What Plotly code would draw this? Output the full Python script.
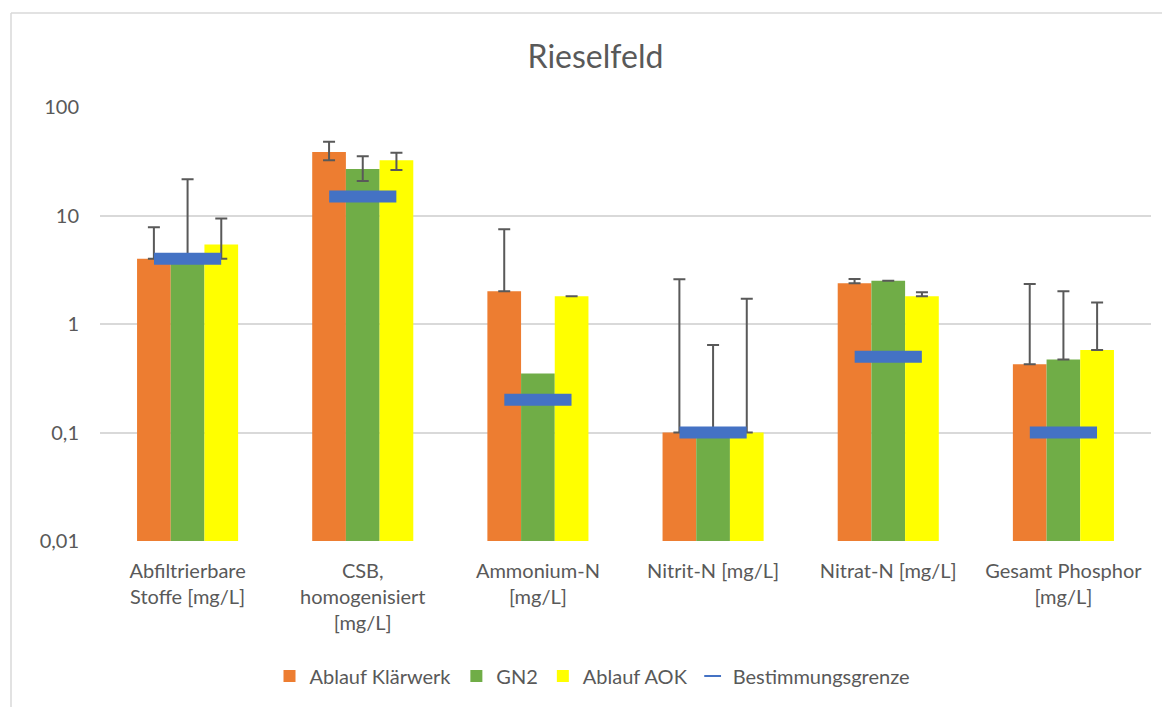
import plotly.graph_objects as go

categories = [
    "Abfiltrierbare<br>Stoffe [mg/L]",
    "CSB,<br>homogenisiert<br>[mg/L]",
    "Ammonium-N<br>[mg/L]",
    "Nitrit-N [mg/L]",
    "Nitrat-N [mg/L]",
    "Gesamt Phosphor<br>[mg/L]",
]

klaerwerk = [4.0, 38.5, 2.0, 0.1, 2.37, 0.425]
klaerwerk_plus = [3.8, 9.4, 5.46, 2.48, 0.23, 1.915]
klaerwerk_minus = [0, 6.2, 0, 0, 0, 0]

gn2 = [4.0, 26.8, 0.35, 0.1, 2.5, 0.47]
gn2_plus = [17.6, 8.3, None, 0.54, 0, 1.53]
gn2_minus = [0, 6.0, None, 0, 0, 0]

aok = [5.4, 32.3, 1.8, 0.1, 1.8, 0.576]
aok_plus = [4.0, 5.6, 0, 1.61, 0.16, 1.0]
aok_minus = [1.4, 6.1, 0, 0, 0, 0]

bestimmungsgrenze = [4.0, 15.0, 0.2, 0.1, 0.5, 0.1]

y_tickvals = [0.01, 0.1, 1, 10, 100]
y_ticktext = ["0,01", "0,1", "1", "10", "100"]

FONT = "Lato"
TXT = "#595959"
GRID = "#D9D9D9"

W, H = 1170, 707
ML, MR, MT, MB = 92, 27, 99, 174
PW = W - ML - MR
PH = H - MT - MB


def errs(vals):
    # missing error -> "NaN" so that plotly.js draws no error bar at all
    return [("NaN" if v is None else v) for v in vals]


def err(plus, minus):
    return dict(type="data", symmetric=False, array=errs(plus), arrayminus=errs(minus),
                color=TXT, thickness=2, width=6)


fig = go.Figure()
fig.add_trace(go.Bar(name="Ablauf Klärwerk", x=categories, y=klaerwerk,
                     marker=dict(color="#ED7D31", line=dict(width=0)),
                     error_y=err(klaerwerk_plus, klaerwerk_minus)))
fig.add_trace(go.Bar(name="GN2", x=categories, y=gn2,
                     marker=dict(color="#70AD47", line=dict(width=0)),
                     error_y=err(gn2_plus, gn2_minus)))
fig.add_trace(go.Bar(name="Ablauf AOK", x=categories, y=aok,
                     marker=dict(color="#FFFF00", line=dict(width=0)),
                     error_y=err(aok_plus, aok_minus)))
fig.add_trace(go.Scatter(name="Bestimmungsgrenze", x=categories, y=bestimmungsgrenze,
                         mode="markers",
                         marker=dict(symbol="line-ew", size=48,
                                     line=dict(width=12, color="#4472C4"),
                                     color="#4472C4")))

top_y = 1 + (MT - 5) / PH
left_x = (3 - ML) / PW

fig.update_layout(
    width=W, height=H,
    margin=dict(l=ML, r=MR, t=MT, b=MB),
    paper_bgcolor="white", plot_bgcolor="white",
    font=dict(family=FONT, color=TXT, size=20),
    title=dict(text="Rieselfeld", x=587.5 / W, xref="container", xanchor="center",
               y=1 - 49 / H, yref="container", yanchor="middle",
               font=dict(family=FONT, size=32, color=TXT)),
    barmode="group", bargap=0.423, bargroupgap=0,
    showlegend=True,
    legend=dict(orientation="h", xref="container", x=584.5 / W, xanchor="center",
                yref="container", y=1 - 668 / H, yanchor="middle",
                font=dict(family=FONT, size=20, color=TXT),
                itemsizing="constant", traceorder="normal"),
    xaxis=dict(showgrid=False, showline=False, ticks="", ticklabelstandoff=16,
               tickfont=dict(size=20, color=TXT)),
    yaxis=dict(type="log", range=[-2, 2], tickvals=y_tickvals, ticktext=y_ticktext,
               showgrid=True, gridcolor=GRID, gridwidth=1.5, zeroline=False,
               showline=False, ticks="", ticklabelstandoff=20,
               tickfont=dict(size=20, color=TXT)),
    shapes=[
        dict(type="line", xref="paper", yref="paper",
             x0=left_x, x1=left_x, y0=top_y, y1=-(MB + 5) / PH,
             line=dict(color=GRID, width=1.5)),
        dict(type="line", xref="paper", yref="paper",
             x0=left_x, x1=1 + (MR + 5) / PW, y0=top_y, y1=top_y,
             line=dict(color=GRID, width=1.5)),
    ],
)

fig.write_html("out.html")
